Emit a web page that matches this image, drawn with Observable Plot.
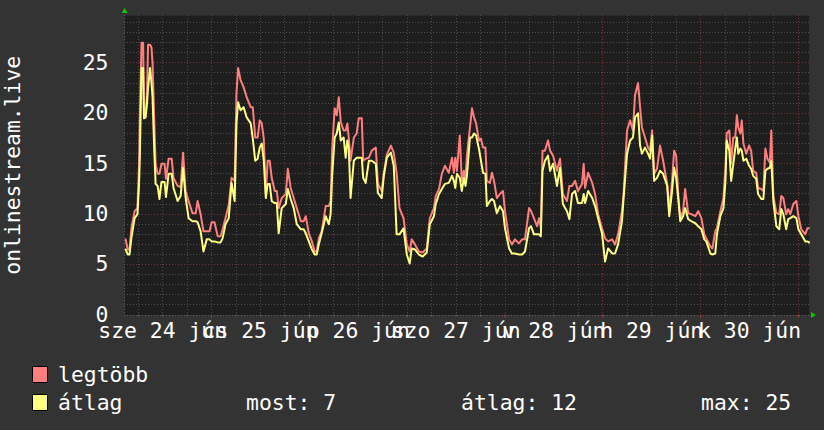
<!DOCTYPE html>
<html><head><meta charset="utf-8">
<script src="https://cdn.jsdelivr.net/npm/d3@7"></script>
<script src="https://cdn.jsdelivr.net/npm/@observablehq/plot@0.6"></script>
<style>
html,body{margin:0;padding:0;background:#333333;}
body{width:824px;height:430px;overflow:hidden;font-family:"DejaVu Sans Mono",monospace;color:#ffffff;}
#legend{position:relative;width:824px;height:85px;font-size:21.4px;line-height:25px;}
#legend span{position:absolute;white-space:pre;}
#legend .sw{position:absolute;width:14px;height:15px;border:1px solid #000;}
</style></head>
<body>
<div id="chart"></div>
<div id="legend"></div>
<script>
// hours since 2015-06-24 00:00
const hours = [
2.9,3.4,3.85,4.3,5.1,5.8,6.2,6.4,6.8,7.2,
7.4,7.8,8.15,8.4,8.9,9.25,9.5,9.9,10.25,10.75,
11.2,11.7,12.45,12.8,13.45,14.2,14.65,15.65,16.4,17.0,
17.6,18.35,19.3,20.1,20.55,21.3,22.0,22.8,23.5,24.0,
24.7,25.5,26.2,26.7,27.4,28.2,28.9,29.65,30.1,30.5,
31.1,31.85,32.6,33.6,34.1,34.7,35.3,35.8,36.3,36.8,
37.3,37.75,38.25,38.75,39.5,40.0,40.45,41.2,42.2,42.7,
43.4,44.15,44.9,45.9,46.6,47.1,47.85,48.6,49.3,49.8,
50.3,51.0,52.0,52.75,53.2,53.6,54.2,54.7,55.2,55.7,
56.4,56.9,57.3,57.65,58.1,58.9,59.6,60.1,60.85,61.2,
61.8,62.6,63.3,64.3,64.8,65.75,66.25,67.0,68.0,68.7,
69.4,70.1,71.1,71.9,72.6,73.1,73.9,74.85,75.8,76.8,
77.55,78.55,79.0,79.8,80.5,81.25,82.2,83.0,83.45,83.8,
84.2,84.9,85.4,85.9,86.3,86.65,87.4,87.9,88.4,88.9,
89.6,90.1,90.6,91.2,91.55,92.3,92.8,93.3,94.0,94.75,
95.5,96.0,97.0,97.7,98.45,99.4,100.2,100.9,101.9,102.4,
103.1,103.85,104.35,104.8,105.2,105.8,106.55,107.05,107.8,108.75,
109.5,110.2,111.2,111.8,112.45,113.2,113.9,114.9,115.3,115.65,
116.4,117.4,118.1,118.85,119.8,120.55,121.3,122.3,123.0,123.75,
124.7,125.1,125.95,126.7,127.4,127.9,128.65,129.15,129.6,130.35,
131.1,131.6,132.1,132.6,133.3,134.05,134.8,135.8,136.3,137.0,
137.5,138.0,138.5,139.0,139.7,140.2,140.95,141.7,142.7,143.4,
144.2,144.9,145.4,146.4,146.9,147.6,148.0,148.85,149.6,150.1,
150.4,151.05,151.5,152.0,152.5,152.9,153.25,153.75,154.1,154.5,
155.2,155.9,156.4,156.9,157.65,158.1,158.9,159.4,159.9,160.4,
161.0,161.35,161.85,162.6,163.3,163.8,164.3,165.0,165.5,166.0,
166.75,167.5,168.0,168.7,169.7,170.2,170.6];

const maxVals = [
7.5,6.5,6.5,8.6,10.3,10.6,15,20,27,27,
19.8,19.8,22,26.8,26.8,26.5,25,19.6,15,14,
14,15,15,13.5,15.5,15.5,13.6,12.8,12.7,16.1,
12.3,11.3,10.1,10.1,11.3,10,8.3,8.3,8.3,9.2,
9.2,7.8,7.8,8.5,9.6,10.9,13.6,13.3,22,24.5,
23.3,22.6,21.6,20.6,20.6,17.6,17.6,19.3,19,17.5,
12,15.3,15.3,13.6,12.3,12.3,10.6,11.6,12,14.5,
12.6,11.6,10.6,9.3,9.3,9.8,8.1,7.3,6.3,6.3,
7.6,8.3,10.8,10.8,11.3,16.6,20.5,19.8,21.6,19.1,
18.3,18.3,19,17.6,15.3,17.6,18,19.5,19.5,15.3,
15.5,15.6,16.3,16.6,13,12.3,14,15.9,16.8,16.1,
14.1,10.6,9.6,7,6.3,7.5,7,6.3,6.2,6.6,
9.6,10.6,11.8,12.5,14,14.8,14.1,15.6,14.1,15.6,
14.3,17.8,13.3,14.3,13.5,15.8,18.6,20.5,19.6,19,
17.3,17.5,16.6,16.6,13.3,13.1,14.1,13.3,11.6,12,
12.3,10.3,7.5,7,7.5,7.1,7.5,7.5,10.6,10.3,
9.6,8.8,9.6,8.6,16.3,16.3,17.3,16.3,15.8,14.3,
15.5,12,11.3,12.8,12.8,13.3,12.3,13,15,12.6,
14.1,13.1,12,10,8.6,7.6,7.3,7.5,7,8,
10.3,12,18.3,19.3,18.3,21.8,23,20.6,18.6,17.6,
16.6,16.3,18.3,14,14.5,16.8,15.3,13,10.3,13.3,
16.3,15.8,12,9.6,10.3,12.5,10.1,10,9.8,10.3,
9.6,8,7.6,6.8,6.6,8.3,8.6,10.3,11.6,14.6,
18,18.3,15,17.6,17.6,19.8,18.6,18,19.3,17,
16,16.8,16.3,14.3,14.1,12.6,12.5,12.3,16.5,15.5,
15.1,18.3,11.8,10.1,10,11.8,11.6,10,10.5,10,
11,11.3,9.8,8.5,8,8.6,8.6];

const avgVals = [
6.5,6,6,7.6,9.6,10,13,16,24.5,24.5,
19.5,19.6,21,22.5,24.5,23,21.6,16.6,13,12.8,
11.5,13.2,13.2,11.7,14,14,12.6,11.3,11.8,14.6,
11.7,9.6,9.3,9.3,9.2,8.3,6.3,7.5,7.5,7.3,
7.3,7.2,7.2,7.6,9,9.6,13.1,11.3,19,21.1,
20.3,20.6,19.6,19,17.5,15.3,15.5,16.6,17,15.3,
11.6,13,13,11.3,11.1,11.1,8.1,10.6,11,12.5,
11.5,10.6,9,8.5,8.5,8.1,7.3,6.5,6,6,
7,8.1,9.8,9,10,14,17.6,18,19.1,17.3,
17.6,15.6,17.3,16.6,11.6,15.3,15.6,15.6,15.6,13.6,
13.1,15.3,15.3,15,12.1,11.6,13.8,15.6,16.1,14.8,
8,8,8.6,6,5.1,6.6,6.5,6,5.8,6.2,
9,9.8,11,12,12.5,13,13.1,13.8,13.3,12.6,
14,13.6,12.3,13.6,12.8,13.8,17.6,17.6,18,17.8,
16.5,15.3,14.1,14,10.8,11.3,11.5,11.3,10.1,10.8,
10.3,8.6,6.6,6.1,6.1,6,6,6.3,8.6,8.8,
8,8,8,7.8,14.3,15.3,15.8,14.3,15,12.8,
14.6,11,10.3,9.5,12,12.3,11.1,11.1,12,11.1,
12.3,11.6,10.8,9.6,8.1,5.3,6.6,6.1,6.1,7,
9.3,11.6,16,17.3,17.6,19.6,20,16.8,16,16.6,
16,15.5,17.8,13.3,13.6,14.3,14,12.8,9.8,12.3,
14.6,13.6,11.6,9.3,9.8,10.6,9.5,9.3,9.1,8.8,
8.5,7.5,7.3,6.1,6,6.1,8,9.8,10.6,13.3,
17.3,16.3,13.3,14.9,16.5,17.6,16,16.5,16.3,15.3,
15.5,14.8,14.5,13.8,13.5,12,11.5,11.5,14.3,14.5,
14.6,15.3,11.3,8.8,8.5,10.5,10,8.5,9.5,9.6,
9.8,9.6,8.5,8,7.3,7.3,7.2];

const dayLabels = ["sze 24 jún","cs 25 jún","p 26 jún","szo 27 jún","v 28 jún","h 29 jún","k 30 jún"];
const yTicks = [0,5,10,15,20,25];
const legendStats = {most: 7, atlag: 12, max: 25};
const rangeHours = [2.62, 170.6];
const yMax = 29.7;

const base = new Date(2015,5,24,0,0).getTime();
const at = h => new Date(base + h*3600e3);
const data = hours.map((h,i) => ({t: at(h), max: maxVals[i], avg: avgVals[i]}));
const tStart = at(rangeHours[0]), tEnd = at(rangeHours[1]);

const majorX = d3.range(1, 8).map(d => at(d*24));
const minorX = d3.range(6, 171, 6).filter(h => h % 24 !== 0).map(at);
const noonX = d3.range(0, 7).map(d => at(d*24 + 12));
const minorY = d3.range(0, 30).filter(v => v % 5 !== 0);
const majorY = yTicks.filter(v => v > 0);

const FONT = "DejaVu Sans Mono";
const FS = 21.4;
const gridGray = "#4e4e4e", gridRed = "#7a3434";
const crisp = {shapeRendering: "crispEdges", strokeDasharray: "1,2"};

const chart = Plot.plot({
  width: 824, height: 345,
  marginLeft: 124, marginRight: 15.5, marginTop: 15, marginBottom: 30.5,
  style: {background: "transparent", fontFamily: FONT, fontSize: FS + "px", color: "#ffffff"},
  x: {type: "time", domain: [tStart, tEnd]},
  y: {domain: [0, yMax]},
  marks: [
    Plot.frame({fill: "#1e1e1e", stroke: "none"}),
    Plot.ruleY(minorY, {stroke: gridGray, ...crisp}),
    Plot.ruleX(minorX, {stroke: gridGray, ...crisp}),
    Plot.ruleY(majorY, {stroke: gridRed, ...crisp}),
    Plot.ruleX(majorX, {stroke: gridRed, ...crisp}),
    Plot.ruleX([tStart], {stroke: "#5c5c5c", ...crisp}),
    Plot.ruleY([0], {stroke: "#5c5c5c", ...crisp}),
    Plot.axisY({ticks: yTicks, tickSize: 0, tickPadding: 16, label: null, fill: "#ffffff", fontSize: FS, fontFamily: FONT}),
    Plot.axisX({ticks: noonX, tickFormat: (d, i) => dayLabels[i], tickSize: 0, tickPadding: 8, label: null, fill: "#ffffff", fontSize: FS, fontFamily: FONT}),
    Plot.axisX({ticks: minorX, tickFormat: () => "", tickSize: 2, stroke: "#666", label: null}),
    Plot.axisX({ticks: majorX, tickFormat: () => "", tickSize: 3, stroke: "#b04444", label: null}),
    Plot.lineY(data, {x: "t", y: "max", stroke: "#ff7f7f", strokeWidth: 2}),
    Plot.lineY(data, {x: "t", y: "avg", stroke: "#ffff7f", strokeWidth: 2}),
    Plot.text(["onlinestream.live"], {frameAnchor: "left", dx: -111, rotate: -90, fill: "#ffffff", fontSize: FS, fontFamily: FONT, textAnchor: "middle"})
  ]
});
document.getElementById("chart").appendChild(chart);

// green arrows at axis ends (positions from scales)
const sx = chart.scale("x"), sy = chart.scale("y");
const x0 = sx.apply(tStart), x1 = sx.apply(tEnd), yTop = sy.apply(yMax), y0 = sy.apply(0);
const svg = d3.select(chart);
svg.append("path").attr("fill", "#00cc00")
  .attr("d", `M${x0+0.5},${yTop-7} L${x0+3.5},${yTop-2} L${x0-2.5},${yTop-2} Z`);
svg.append("path").attr("fill", "#00cc00")
  .attr("d", `M${x1+7.5},${y0+0.5} L${x1+2.5},${y0+3.5} L${x1+2.5},${y0-2.5} Z`);

// legend
const lg = document.getElementById("legend");
lg.innerHTML = `
<div class="sw" style="left:32px;top:21px;background:#ff7f7f"></div>
<span style="left:58px;top:17px">legtöbb</span>
<div class="sw" style="left:32px;top:49px;background:#ffff7f"></div>
<span style="left:58px;top:45px">átlag</span>
<span style="left:246px;top:45px">most: ${legendStats.most}</span>
<span style="left:461px;top:45px">átlag: ${legendStats.atlag}</span>
<span style="left:701px;top:45px">max: ${legendStats.max}</span>`;
</script>
</body></html>
